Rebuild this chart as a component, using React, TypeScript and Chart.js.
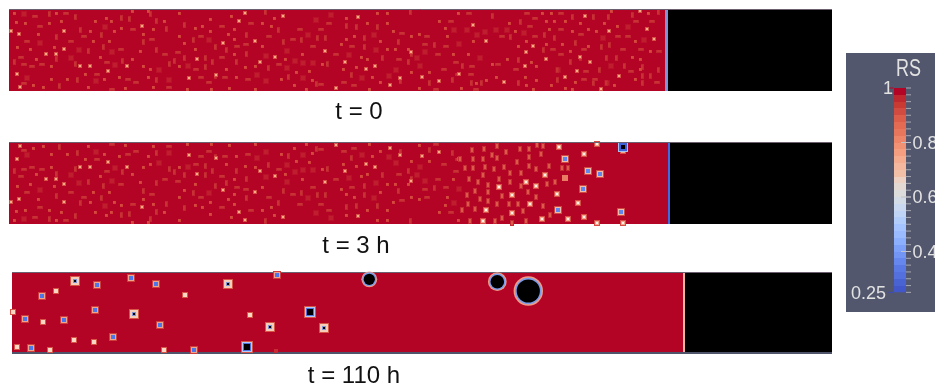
import React, { useEffect, useRef } from "react";
import { Chart, registerables } from "chart.js";

Chart.register(...registerables);

type P = [number, number];

// Defect spots of the t = 0 panel in image pixels
const brightSpots: P[] = [[64,31],[19,34],[11,31],[46,54],[56,54],[64,49],[17,74],[20,87],[80,66],[90,66],[127,66],[108,71],[142,26],[239,21],[223,43],[275,57],[260,62],[197,59],[255,41],[283,16],[245,13],[189,78],[216,75],[325,51],[336,88],[358,17],[375,66],[422,77],[366,69],[473,25],[345,62],[390,85],[486,41],[439,81],[400,78],[459,74],[411,52],[585,16],[640,11],[590,62],[546,59],[525,66],[577,71],[647,29],[654,39],[580,57],[533,46],[609,31],[526,52],[619,76],[565,77],[601,89],[504,82]];
const midSpots: P[] = [[14,13],[25,23],[16,22],[61,21],[56,13],[90,31],[114,31],[121,28],[143,34],[153,29],[93,41],[109,41],[140,51],[100,57],[36,59],[51,66],[132,59],[150,69],[143,66],[119,77],[148,77],[43,87],[88,87],[51,79],[67,79],[104,79],[85,74],[111,21],[132,11],[148,11],[164,21],[95,21],[106,18],[49,23],[38,34],[54,47],[30,49],[17,47],[125,88],[153,87],[33,85],[179,13],[210,19],[231,16],[202,26],[195,28],[210,31],[262,23],[271,26],[274,18],[234,29],[228,34],[234,39],[184,43],[195,49],[179,36],[262,46],[302,54],[285,59],[234,54],[255,66],[245,67],[226,69],[179,66],[296,72],[309,71],[322,64],[236,77],[281,79],[294,85],[312,80],[229,88],[255,89],[187,89],[211,89],[306,89],[346,18],[377,13],[387,13],[458,13],[367,23],[387,23],[393,31],[411,36],[419,34],[439,21],[445,28],[447,36],[473,41],[380,41],[387,49],[346,39],[354,36],[361,57],[367,59],[408,49],[395,49],[453,54],[468,54],[492,64],[343,69],[356,67],[372,77],[380,82],[411,72],[429,72],[476,83],[496,77],[486,80],[369,89],[461,88],[419,88],[341,44],[509,23],[551,13],[542,13],[546,21],[554,21],[565,21],[580,23],[604,23],[617,26],[648,13],[611,11],[515,31],[549,29],[572,31],[588,29],[596,31],[526,41],[546,44],[562,44],[635,41],[518,46],[588,46],[570,51],[650,51],[507,59],[531,62],[632,57],[640,59],[536,66],[525,77],[536,80],[640,69],[635,79],[575,82],[526,85],[551,85],[565,88],[614,85],[533,89],[572,89]];
const tallSpots: P[] = [[49,14],[75,17],[56,37],[80,30],[101,35],[121,18],[143,42],[103,47],[129,19],[150,14],[156,50],[156,21],[14,62],[56,59],[88,51],[75,64],[77,80],[59,86],[122,61],[156,80],[169,64],[166,29],[184,25],[265,12],[246,35],[278,30],[283,42],[301,40],[317,38],[325,38],[193,40],[215,47],[226,50],[205,58],[184,58],[246,54],[212,62],[236,62],[268,68],[205,67],[327,64],[215,76],[174,61],[288,77],[316,84],[410,12],[346,26],[356,27],[377,27],[364,38],[398,42],[364,47],[434,45],[411,54],[382,58],[408,62],[462,66],[400,81],[351,75],[429,83],[452,80],[471,83],[481,83],[492,16],[572,17],[593,17],[608,17],[632,15],[520,22],[658,12],[544,35],[510,37],[554,38],[575,43],[609,45],[601,47],[543,50],[580,58],[616,58],[518,60],[570,62],[606,58],[624,66],[642,67],[658,70],[599,70],[557,70],[642,76],[650,76],[518,83],[593,83],[557,80],[606,83],[642,83]];
const wideSpots: P[] = [[35,16],[66,13],[40,26],[84,36],[133,29],[27,41],[71,41],[152,39],[121,49],[21,57],[24,64],[32,66],[42,64],[165,54],[107,62],[97,74],[128,79],[136,82],[169,87],[112,89],[24,83],[222,26],[251,23],[329,23],[300,29],[321,29],[269,36],[201,36],[293,39],[246,44],[313,46],[237,46],[178,52],[222,57],[279,64],[196,69],[225,77],[248,79],[209,82],[321,84],[336,54],[201,77],[451,21],[469,13],[427,36],[402,33],[425,44],[446,46],[352,46],[399,59],[438,54],[456,62],[444,69],[472,66],[471,74],[458,74],[344,82],[354,85],[502,36],[436,89],[476,89],[498,64],[527,13],[561,13],[535,18],[530,26],[636,21],[652,21],[561,29],[581,34],[535,36],[618,36],[628,36],[553,49],[584,49],[623,49],[641,49],[659,51],[561,54],[516,69],[586,71],[631,71],[584,79],[595,79],[657,82]];
const faintSpots: P[] = [[24,14],[105,27],[40,43],[79,50],[71,58],[112,52],[115,65],[159,70],[27,78],[96,81],[169,80],[331,15],[316,20],[308,35],[209,40],[287,51],[266,56],[295,61],[303,63],[313,63],[287,68],[188,66],[257,75],[266,81],[303,78],[374,35],[454,30],[467,30],[477,35],[485,32],[496,30],[459,44],[425,52],[376,50],[349,55],[417,58],[480,58],[396,70],[420,66],[362,78],[389,76],[507,30],[524,33],[628,27],[603,38],[644,40],[558,70],[611,66],[607,83]];

// Extra spots of the t = 3 h panel, right of the shared part
const frontRedSpots: P[] = [[484,149],[472,150],[497,146],[520,149],[529,149],[537,145],[543,146],[506,152],[497,158],[492,155],[473,159],[541,154],[529,157],[460,159],[483,159],[517,162],[529,166],[549,166],[465,168],[473,168],[485,167],[504,167],[494,169],[536,169],[562,168],[568,168],[521,173],[510,173],[469,179],[483,175],[499,179],[478,182],[510,182],[547,184],[555,182],[488,185],[521,186],[475,191],[488,192],[528,192],[467,195],[502,196],[536,197],[480,199],[488,201],[468,204],[497,204],[509,204],[518,204],[543,206],[475,209],[462,210],[523,211],[502,218],[470,221],[495,221],[526,221],[512,223],[550,215]];
const frontPaleSpots: P[] = [[559,147],[584,154],[545,175],[557,194],[578,203],[530,204],[512,195],[499,187],[526,182],[536,186],[584,217],[568,219],[542,219],[512,213],[486,210],[483,221],[597,223],[597,144],[623,151],[623,223]];
const frontBlueSpots: P[] = [[565,159],[588,171],[600,174],[583,189],[558,210],[621,212]];
const frontPeachSpots: P[] = [[565,178]];
const frontHoles: P[] = [[623,147]];

// Defects of the t = 110 h panel
const dotDefects: P[] = [[75,281],[228,284],[134,314],[324,328],[270,327]];
const squareHoles: P[] = [[310,312],[247,347]];
const blueBlobs: P[] = [[113,337],[131,278],[277,275],[97,285],[156,284],[42,296],[95,310],[64,320],[160,325],[31,348],[194,350],[25,319]];
const paleBlobs: P[] = [[185,295],[250,315],[13,312],[164,350],[74,340],[94,342],[17,347],[50,350],[43,322],[56,291]];
const faintBlobs: P[] = [[276,351]];
const voidCentres: P[] = [[528.3,291],[497.3,281.7],[369.3,279.3]];
const voidOuterRadii = [14.7,9.4,7.9];
const voidRingRadii = [13.2,8.2,7];
const voidCoreRadii = [11.6,6.8,5.6];

// Panels: [left, top, right, bottom]
const specimenBoxes = [[9,9,666,91],[9,142,668,224],[12,272,684,353]];
const frontBoxes = [[665,9,668,91],[668,142,670,224],[683,272,685,353]];
const voidBoxes = [[667,9,832,91],[670,142,832,224],[685,272,832,353]];
const frontColors = ["#7f93d8","#4169e1","#f7b89a"];
const topEdges = [[9,832,9.5],[9,832,142.5],[12,832,272.5]];
const bottomEdge = [[12,832,353]];
const scalarBarBox = [846,53,935,312];

// Colour bar
const barValues = [1,.975,.95,.925,.9,.875,.85,.825,.8,.775,.75,.725,.7,.675,.65,.625,.6,.575,.55,.525,.5,.475,.45,.425,.4,.375,.35,.325,.3,.275,.25];
const barColors = ["#b40426","#c0282f","#c93a32","#d24b40","#dc5d4a","#e36b54","#e8765c","#ee8468","#f29274","#f59f80","#f6ac8e","#f5b79e","#f2c0a7","#edd1c2","#e4d9d2","#dddcdc","#d3dbe7","#c9d7f0","#c0d4f5","#b3cdfb","#a5c3fe","#9abbff","#8caffe","#7da0f9","#7396f5","#6687ed","#5b79e5","#5470de","#4a63d3","#4257c9"];
const barMajorTicks = [.8,.6,.4];

const panelLabels = [{t:"t = 0",x:359,y:112},{t:"t = 3 h",x:356,y:246},{t:"t = 110 h",x:354,y:376}];
const barTickLabels = [{t:"0.8",x:912.5,v:.796},{t:"0.6",x:912.5,v:.596},{t:"0.4",x:912.5,v:.396}];
const barEndLabels = [{t:"1",x:883,v:.996},{t:"0.25",x:851,v:.243}];

const toXY = (a: P[]) => a.map(([x, y]) => ({ x, y }));
const box = (b: number[]) => [
  { x: b[0], y: b[1] }, { x: b[2], y: b[1] }, { x: b[2], y: b[3] }, { x: b[0], y: b[3] }, { x: b[0], y: b[1] },
];

function sprite(w: number, h: number, layers: [number, string][]) {
  const c = document.createElement("canvas");
  c.width = w; c.height = h;
  const g = c.getContext("2d")!;
  for (const [i, col] of layers) { g.fillStyle = col; g.fillRect(i, i, w - 2 * i, h - 2 * i); }
  return c;
}
function blob(size: number, layers: [number, string][]) {
  const c = document.createElement("canvas");
  c.width = size; c.height = size;
  const g = c.getContext("2d")!;
  for (const [r, col] of layers) {
    g.fillStyle = col;
    g.fillRect(size / 2 - r, size / 2 - r, 2 * r, 2 * r);
  }
  return c;
}

const textPlugin = {
  id: "labels",
  afterDatasetsDraw(chart: any) {
    const { ctx, scales } = chart;
    ctx.save();
    ctx.textBaseline = "middle";
    ctx.textAlign = "center";
    ctx.fillStyle = "#111";
    ctx.font = '24px "Liberation Sans"';
    for (const l of panelLabels) ctx.fillText(l.t, scales.x.getPixelForValue(l.x), scales.y.getPixelForValue(l.y));
    ctx.textAlign = "left";
    ctx.fillStyle = "#e2e2e2";
    ctx.font = '18px "Liberation Sans"';
    for (const l of [...barTickLabels, ...barEndLabels]) ctx.fillText(l.t, scales.x.getPixelForValue(l.x), scales.yBar.getPixelForValue(l.v));
    ctx.font = '24px "Liberation Sans"';
    ctx.fillText("RS", scales.x.getPixelForValue(896), scales.y.getPixelForValue(69), 25);
    ctx.restore();
  },
};

export default function App() {
  const ref = useRef<HTMLCanvasElement>(null);
  useEffect(() => {
    const barGradient = ref.current!.getContext("2d")!.createLinearGradient(0, 88, 0, 292.4);
    barColors.forEach((col, i) => {
      barGradient.addColorStop(i / barColors.length, col);
      barGradient.addColorStop((i + 1) / barColors.length, col);
    });
    const spots = [
      { data: faintSpots, style: sprite(6, 6, [[0, "#ba1029"], [1, "#bf1e2e"]]) },
      { data: wideSpots, style: sprite(6, 3, [[0, "#c12530"], [1, "#cf3f3a"]]) },
      { data: tallSpots, style: sprite(3, 6, [[0, "#c12530"], [1, "#cf3f3a"]]) },
      { data: midSpots, style: sprite(3, 3, [[0, "#d04038"], [1, "#e06a52"]]) },
      { data: brightSpots, style: sprite(4, 4, [[0, "#d65046"], [1, "#f6ae88"]]) },
    ];
    const rect = (b: number[], color: string) => ({
      data: box(b), showLine: true, fill: "shape", backgroundColor: color, borderWidth: 0, borderColor: color, pointRadius: 0, tension: 0,
    });
    const hline = (e: number[], color: string, w: number) => ({
      data: [{ x: e[0], y: e[2] }, { x: e[1], y: e[2] }], showLine: true, borderColor: color, borderWidth: w, pointRadius: 0,
    });
    const pts = (data: P[], style: any, yAxisID = "y") => ({ data: toXY(data), pointStyle: style, pointRadius: 3, pointBorderWidth: 0, yAxisID });
    const circles = (radii: number[], color: string) => ({
      data: toXY(voidCentres), pointStyle: "circle", pointRadius: radii, pointBackgroundColor: color, pointBorderColor: color, pointBorderWidth: 0,
    });
    const layers: any[] = [
      ...specimenBoxes.map((b) => rect(b, "#b40426")),
      ...voidBoxes.map((b) => rect(b, "#000000")),
      ...frontBoxes.map((b, i) => rect(b, frontColors[i])),
      ...spots.map((s) => pts(s.data, s.style)),
      ...spots.map((s) => pts(s.data.filter(([x]) => x < 460), s.style, "yMirror")),
      pts(frontRedSpots, sprite(4, 6, [[0, "#c62c34"], [1, "#dc5a4a"]])),
      pts(frontPaleSpots, blob(6, [[3, "#d84e46"], [2, "#f2a88c"], [1, "#fff2ea"]])),
      pts(frontBlueSpots, blob(8, [[4, "#d04a44"], [3, "#f2bca8"], [2, "#5f86ec"]])),
      pts(frontPeachSpots, blob(6, [[3, "#e97d64"]])),
      pts(frontHoles, blob(10, [[5, "#a9c0f2"], [4, "#3f62d8"], [2, "#000000"]])),
      hline(topEdges[0], "#6b6070", 1),
      hline(topEdges[1], "#6b6070", 1),
      hline(topEdges[2], "#6b6070", 1),
      hline(bottomEdge[0], "#50546a", 2),
      pts(dotDefects, blob(10, [[5, "#d85648"], [4, "#f5cdb8"], [2, "#7f93d8"], [1, "#000000"]])),
      pts(squareHoles, blob(12, [[6, "#d85648"], [5, "#b6cbf5"], [4, "#4d73e0"], [3, "#000000"]])),
      pts(blueBlobs, blob(8, [[4, "#cf3d3d"], [3, "#f0a48c"], [2, "#4d76e8"]])),
      pts(paleBlobs, blob(6, [[3, "#d65448"], [2, "#fbd8c4"]])),
      pts(faintBlobs, blob(6, [[2, "#c62c34"]])),
      circles(voidOuterRadii, "#ef9a84"),
      circles(voidRingRadii, "#7a9cea"),
      circles(voidCoreRadii, "#000000"),
      rect(scalarBarBox, "#52576e"),
      {
        data: barValues.map((v) => ({ x: 900, y: v })), yAxisID: "yBar", showLine: true, borderWidth: 12, pointRadius: 0,
        borderColor: barGradient,
      },
      { data: barValues.map((v) => ({ x: 908.5, y: v })), yAxisID: "yBar", pointStyle: "line", pointRadius: 2.5, pointBorderWidth: 1, pointBorderColor: "#a6a8b0" },
      { data: barMajorTicks.map((v) => ({ x: 906, y: v })), yAxisID: "yBar", pointStyle: "line", pointRadius: 5, pointBorderWidth: 1, pointBorderColor: "#c0c2c8" },
      { data: [{ x: 891, y: 1 }], yAxisID: "yBar", pointStyle: "line", pointRadius: 2.5, pointBorderWidth: 1, pointBorderColor: "#b40426" },
      { data: [{ x: 891, y: .25 }], yAxisID: "yBar", pointStyle: "line", pointRadius: 2.5, pointBorderWidth: 1, pointBorderColor: "#3b4cc0" },
    ];
    const chart = new Chart(ref.current!, {
      type: "scatter",
      data: { datasets: layers.reverse() },
      plugins: [textPlugin],
      options: {
        animation: false,
        responsive: false,
        layout: { padding: 0, autoPadding: false },
        plugins: { legend: { display: false }, tooltip: { enabled: false } },
        scales: {
          x: { type: "linear", display: false, min: 0, max: 935 },
          y: { type: "linear", display: false, reverse: true, min: 0, max: 384 },
          yMirror: { type: "linear", display: false, min: -151, max: 233 },
          yBar: { type: "linear", display: false, min: -0.08624, max: 1.32294 },
        },
      },
    } as any);
    return () => chart.destroy();
  }, []);
  return (
    <canvas ref={ref} width={935} height={384} style={{ position: "fixed", left: 0, top: 0, width: 935, height: 384, background: "#fff" }} />
  );
}
